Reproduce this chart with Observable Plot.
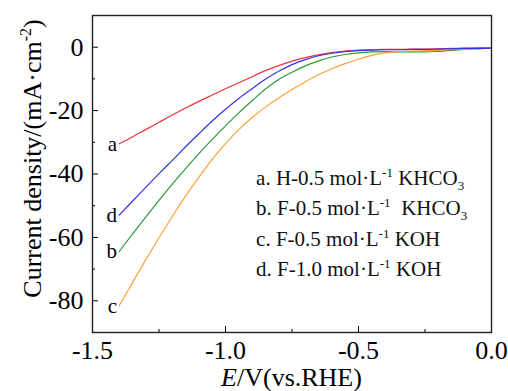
<!DOCTYPE html>
<html><head><meta charset="utf-8">
<script src="https://cdn.jsdelivr.net/npm/d3@7"></script>
<script src="https://cdn.jsdelivr.net/npm/@observablehq/plot@0.6"></script>
<style>
body{margin:0;background:#fff}
#chart{position:relative;width:508px;height:391px}
#chart svg, #chart svg text, #chart svg g{font-family:'Liberation Serif','Times New Roman',serif !important}
</style>
</head><body><div id="chart"></div>
<script>
// Potential E (V vs. RHE)
const potential = [-1.40,-1.35,-1.30,-1.25,-1.20,-1.15,-1.10,-1.05,-1.00,-0.95,-0.90,-0.85,-0.80,-0.75,-0.70,-0.65,-0.60,-0.55,-0.50,-0.45,-0.40,-0.35,-0.30,-0.25,-0.20,-0.15,-0.10,-0.05,0.00];
// Current density (mA cm^-2)
const curveA = [-30.5,-28.3,-26.0,-23.7,-21.4,-19.2,-17.1,-15.1,-13.1,-11.2,-9.3,-7.4,-5.8,-4.4,-3.3,-2.4,-1.7,-1.2,-0.9,-0.8,-0.7,-0.7,-0.6,-0.6,-0.5,-0.4,-0.3,-0.2,-0.1];
const curveB = [-64.5,-59.0,-53.6,-48.3,-43.2,-38.3,-33.6,-29.1,-24.8,-20.7,-16.9,-13.2,-10.2,-7.9,-5.9,-4.3,-3.1,-2.3,-1.8,-1.5,-1.4,-1.5,-1.5,-1.5,-1.3,-1.0,-0.7,-0.5,-0.3];
const curveC = [-81.6,-74.3,-67.1,-60.1,-53.4,-47.0,-41.0,-35.4,-30.4,-26.0,-22.2,-18.9,-16.0,-13.4,-10.9,-8.7,-6.8,-5.2,-3.8,-2.6,-1.8,-1.4,-1.2,-1.1,-1.0,-0.8,-0.6,-0.4,-0.3];
const curveD = [-53.0,-48.6,-44.2,-39.9,-35.7,-31.4,-27.3,-23.3,-19.6,-16.2,-13.1,-10.1,-7.6,-5.5,-3.9,-2.7,-1.9,-1.4,-1.1,-0.9,-0.8,-0.8,-0.7,-0.7,-0.6,-0.5,-0.4,-0.4,-0.3];
const seriesKeys = ["a","b","c","d"];
const seriesColors = ["#e8343c","#2e9a3c","#f7a23c","#3434e6"];
const legendLabels = [
  ["a. H-0.5 mol·L","-1"," KHCO","3"],
  ["b. F-0.5 mol·L","-1","  KHCO","3"],
  ["c. F-0.5 mol·L","-1"," KOH",""],
  ["d. F-1.0 mol·L","-1"," KOH",""]
];
const xTicks = [-1.5,-1.0,-0.5,0.0];
const xMinor = [-1.25,-0.75,-0.25];
const yTicks = [0,-20,-40,-60,-80];
const yMinor = [-10,-30,-50,-70,-90];

const allCurves = [curveA, curveB, curveC, curveD];
const rows = [];
seriesKeys.forEach((k, i) => potential.forEach((e, j) => rows.push({E: e, J: allCurves[i][j], key: k})));
const starts = seriesKeys.map((k, i) => ({E: potential[0], J: allCurves[i][0], key: k}));

const FONT = "'Liberation Serif', 'Times New Roman', serif";
const plot = Plot.plot({
  width: 508, height: 391,
  marginLeft: 92, marginRight: 17, marginTop: 15, marginBottom: 59,
  style: {fontFamily: FONT, fontSize: "26px", color: "#000", background: "#fff", overflow: "visible"},
  x: {domain: [-1.5, 0]},
  y: {domain: [-90, 10]},
  color: {domain: seriesKeys, range: seriesColors},
  marks: [
    Plot.axisX({ticks: xMinor, tickSize: -3, tickFormat: () => "", label: null}),
    Plot.axisX({ticks: xTicks, tickSize: -6, tickFormat: () => "", label: null}),
    Plot.axisX({ticks: xTicks, tickSize: 0, tickPadding: 8, tickFormat: d => d.toFixed(1), label: null, fontSize: 26}),
    Plot.axisY({ticks: yMinor, tickSize: -3, tickFormat: () => "", label: null}),
    Plot.axisY({ticks: yTicks, tickSize: -6, tickFormat: () => "", label: null}),
    Plot.axisY({ticks: yTicks, tickSize: 0, tickPadding: 9, tickFormat: d => String(d), label: null, fontSize: 26}),
    Plot.line(rows, {x: "E", y: "J", z: "key", stroke: "key", strokeWidth: 1.2, curve: "monotone-x"}),
    Plot.text(starts, {x: "E", y: "J", text: "key", textAnchor: "end", dx: -2, fontSize: 21}),
    Plot.frame({stroke: "#222", strokeWidth: 1.4})
  ]
});
document.getElementById("chart").appendChild(plot);

const svg = d3.select(plot).attr("font-family", FONT);
svg.selectAll("text").attr("font-family", FONT);
const xs = plot.scale("x"), ys = plot.scale("y");
// Y axis title
const yt = svg.append("text")
  .attr("transform", `translate(41,${(ys.apply(10) + ys.apply(-90)) / 2 - 15}) rotate(-90)`)
  .attr("text-anchor", "middle").attr("font-size", 26).attr("fill", "#000").attr("font-family", FONT);
yt.append("tspan").text("Current density/(mA·cm");
yt.append("tspan").attr("dy", -10).attr("font-size", 16).text("-2");
yt.append("tspan").attr("dy", 10).text(")");
// X axis title
const xt = svg.append("text")
  .attr("x", (xs.apply(-1.5) + xs.apply(0)) / 2).attr("y", 386)
  .attr("text-anchor", "middle").attr("font-size", 26).attr("fill", "#000").attr("font-family", FONT);
xt.append("tspan").attr("font-style", "italic").text("E");
xt.append("tspan").text("/V(vs.RHE)");
// Legend
const lx = xs.apply(-0.883), ly = ys.apply(-43.5);
legendLabels.forEach((p, i) => {
  const t = svg.append("text").attr("x", lx).attr("y", ly + i * 30.5)
    .attr("text-anchor", "start").attr("font-family", FONT)
    .attr("font-size", 21).attr("fill", "#111").attr("xml:space", "preserve").style("white-space", "pre");
  t.append("tspan").text(p[0]);
  t.append("tspan").attr("dy", -8).attr("font-size", 13).text(p[1]);
  t.append("tspan").attr("dy", 8).text(p[2]);
  if (p[3]) t.append("tspan").attr("dy", 5).attr("font-size", 13).text(p[3]);
});
</script>
</body></html>
